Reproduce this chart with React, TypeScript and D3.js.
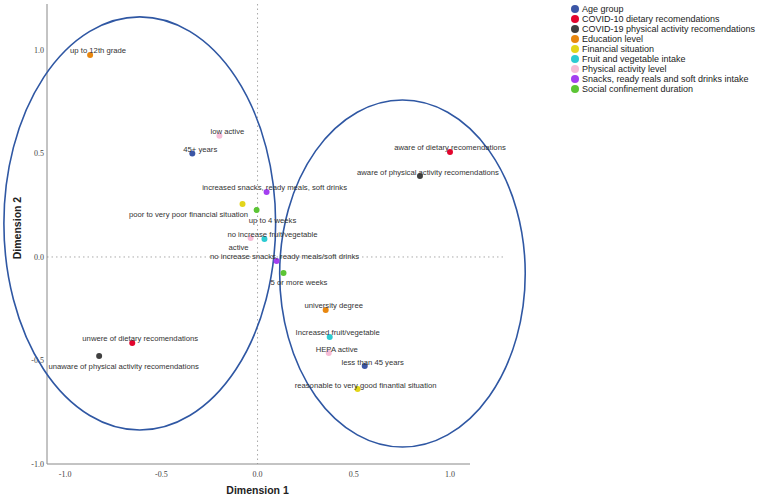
import React from 'react';
import * as d3 from 'd3';

const groups = [
  'Age group',
  'COVID-10 dietary recomendations',
  'COVID-19 physical activity recomendations',
  'Education level',
  'Financial situation',
  'Fruit and vegetable intake',
  'Physical activity level',
  'Snacks, ready reals and soft drinks intake',
  'Social confinement duration',
];
const groupColors = ['#3b56a6', '#e3052d', '#404040', '#e8870f', '#e3d51a', '#2ccbd2', '#f6bcd6', '#a43ff0', '#5cc535'];

const pointLabels = [
  'up to 12th grade', 'low active', '45+ years', 'increased snacks, ready meals, soft drinks',
  'poor to very poor financial situation', 'up to 4 weeks', 'no increase fruit/vegetable', 'active',
  'no increase snacks, ready meals/soft drinks', '5 or more weeks', 'university degree',
  'Increased fruit/vegetable', 'HEPA active', 'less than 45 years',
  'reasonable to very good finantial situation', 'unwere of dietary recomendations',
  'unaware of physical activity recomendations', 'aware of dietary recomendations',
  'aware of physical activity recomendations',
];
const pointGroup = [3, 6, 0, 7, 4, 8, 5, 6, 7, 8, 3, 5, 6, 0, 4, 1, 2, 1, 2];
const dim1 = [-0.87, -0.198, -0.339, 0.047, -0.078, -0.005, 0.036, -0.036, 0.099, 0.135, 0.354, 0.375, 0.37, 0.557, 0.52, -0.651, -0.823, 1.0, 0.844];
const dim2 = [0.976, 0.585, 0.5, 0.314, 0.256, 0.227, 0.087, 0.092, -0.019, -0.077, -0.256, -0.386, -0.464, -0.527, -0.638, -0.415, -0.478, 0.507, 0.391];

// cluster ellipses: centre and radii in dimension units
const ellipseCx = [-0.612, 0.753];
const ellipseCy = [0.162, -0.08];
const ellipseRx = [0.706, 0.638];
const ellipseRy = [0.998, 0.838];

const tickValues = [-1.0, -0.5, 0.0, 0.5, 1.0];

// label placement tweaks (px, relative to the point)
const labelShift: Record<string, [number, number]> = {
  'poor to very poor financial situation': [-54, 10],
  'up to 4 weeks': [16, 10],
  'active': [-12, 9],
  '5 or more weeks': [15.5, 9],
  'unaware of physical activity recomendations': [24.5, 10],
  'aware of dietary recomendations': [0, -5],
};

const App = () => {
  const width = 762, height = 500;
  const x = d3.scaleLinear().domain([-1.094, 1.104]).range([47, 470]);
  const y = d3.scaleLinear().domain([-1, 1.222]).range([464, 4]);
  const fmt = (v: number) => (v < 0 ? '-' : '') + Math.abs(v).toFixed(1);
  const sans = '"Liberation Sans", Arial, sans-serif';

  return (
    <svg width={width} height={height} style={{ position: 'absolute', left: 0, top: 0, background: '#fff' }}>
      {/* reference lines */}
      <line x1={x(0)} x2={x(0)} y1={y(1.222)} y2={y(-1)} stroke="#aaa" strokeWidth={1} strokeDasharray="1.5,3" />
      <line x1={x(-1.094)} x2={x(1.276)} y1={y(0)} y2={y(0)} stroke="#aaa" strokeWidth={1} strokeDasharray="1.5,3" />

      {/* axes */}
      <line x1={x(-1.094)} x2={x(-1.094)} y1={y(1.222)} y2={y(-1)} stroke="#888" />
      <line x1={x(-1.094)} x2={x(1.104)} y1={y(-1)} y2={y(-1)} stroke="#888" />
      <g fontFamily='"Liberation Serif", serif' fontSize={8} fill="#444">
        {tickValues.map((t) => (
          <text key={'y' + t} x={x(-1.094) - 3} y={y(t) + 3} textAnchor="end">{fmt(t)}</text>
        ))}
        {tickValues.map((t) => (
          <text key={'x' + t} x={x(t)} y={y(-1) + 13} textAnchor="middle">{fmt(t)}</text>
        ))}
      </g>
      <text x={x(0)} y={494} textAnchor="middle" fontFamily={sans} fontWeight="bold" fontSize={10.5} fill="#222">Dimension 1</text>
      <text transform={`translate(21, 228) rotate(-90)`} textAnchor="middle" fontFamily={sans} fontWeight="bold" fontSize={10.5} fill="#222">Dimension 2</text>

      {/* ellipses */}
      {ellipseCx.map((cx, i) => (
        <ellipse key={i} cx={x(cx)} cy={y(ellipseCy[i])} rx={x(ellipseRx[i]) - x(0)} ry={y(0) - y(ellipseRy[i])}
          fill="none" stroke="#2f57a3" strokeWidth={1.6} />
      ))}

      {/* points */}
      {pointLabels.map((lab, i) => (
        <circle key={lab} cx={x(dim1[i])} cy={y(dim2[i])} r={3} fill={groupColors[pointGroup[i]]} />
      ))}
      <g fontFamily={sans} fontSize={7.7} fill="#333">
        {pointLabels.map((lab, i) => {
          const [dx, dy] = labelShift[lab] || [8, -4.5];
          return (
            <text key={lab} x={x(dim1[i]) + dx} y={y(dim2[i]) + dy + 3} textAnchor="middle">{lab}</text>
          );
        })}
      </g>

      {/* legend */}
      <g fontFamily={sans} fontSize={9} fill="#222">
        {groups.map((g, i) => (
          <g key={g} transform={`translate(575, ${9 + i * 10})`}>
            <circle r={4} fill={groupColors[i]} />
            <text x={7} y={3.2}>{g}</text>
          </g>
        ))}
      </g>
    </svg>
  );
};

export default App;
